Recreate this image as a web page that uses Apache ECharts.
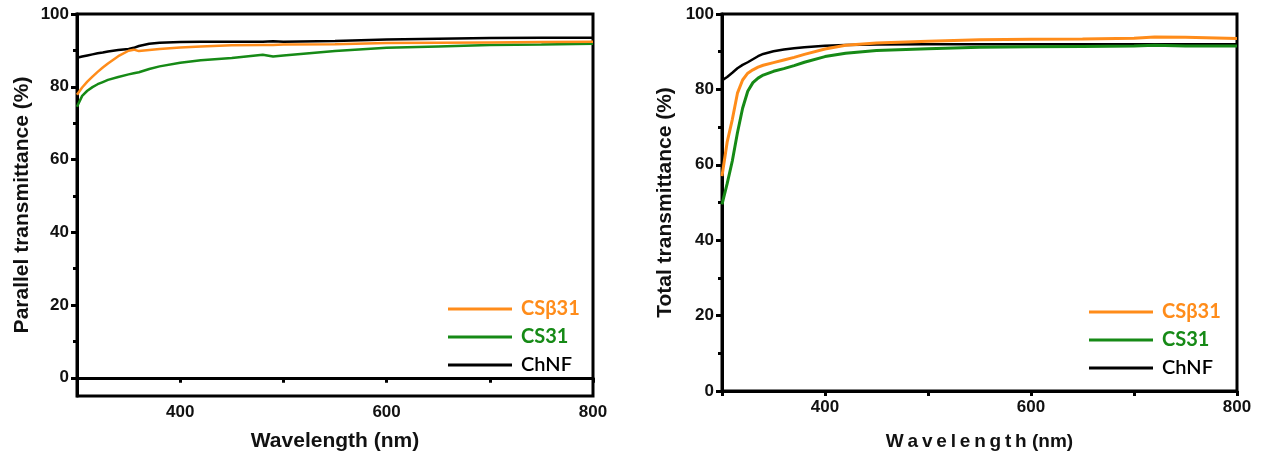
<!DOCTYPE html>
<html><head><meta charset="utf-8">
<script src="https://cdn.jsdelivr.net/npm/echarts@6/dist/echarts.min.js"></script>
<style>html,body{margin:0;padding:0;background:#fff}#c{width:1263px;height:459px}</style>
</head><body><div id="c"></div>
<script>
// Left chart: parallel transmittance
const parWavelength = [300,305,310,315,320,325,330,340,350,355,360,370,380,400,420,450,480,490,500,550,600,650,700,750,800];
const parChNF  = [88.0,88.3,88.6,88.9,89.2,89.4,89.7,90.1,90.4,90.7,91.2,91.8,92.1,92.3,92.4,92.4,92.4,92.5,92.4,92.6,93.0,93.2,93.4,93.5,93.5];
const parCSb31 = [77.8,79.8,81.4,82.8,84.1,85.3,86.4,88.4,89.9,90.2,89.8,90.1,90.4,90.8,91.1,91.4,91.5,91.5,91.6,91.7,92.0,92.1,92.2,92.3,92.4];
const parCS31  = [74.5,77.5,78.9,79.9,80.7,81.3,81.9,82.7,83.4,83.7,84.0,84.9,85.6,86.6,87.3,87.9,88.8,88.3,88.6,89.8,90.7,91.1,91.5,91.6,91.8];
// Right chart: total transmittance
const totWavelength = [300,305,310,315,320,325,330,335,340,350,360,370,380,400,420,450,500,550,600,650,700,720,750,800];
const totChNF  = [82.4,83.3,84.4,85.6,86.5,87.2,88.0,88.8,89.4,90.1,90.6,90.9,91.2,91.6,91.8,91.9,92.0,92.0,92.0,92.0,92.0,92.0,92.0,92.0];
const totCSb31 = [57.0,66.0,72.0,79.0,82.5,84.3,85.2,85.9,86.4,87.1,87.8,88.5,89.3,90.7,91.7,92.3,92.8,93.2,93.3,93.4,93.6,93.9,93.8,93.5];
const totCS31  = [49.5,55.0,61.0,68.5,75.0,79.5,81.8,83.0,83.8,84.8,85.5,86.3,87.2,88.7,89.6,90.3,90.8,91.2,91.3,91.4,91.5,91.7,91.5,91.5];
// Axis labels / legend
const seriesNames = ['CSβ31','CS31','ChNF'];
const xTicks = [400,600,800];
const leftYTicks = [0,20,40,60,80,100];
const leftYMinor = [10,30,50,70,90];

const colors = {'CSβ31':'#ff8c1a','CS31':'#168a16','ChNF':'#000000'};
const pairs = (xs, ys) => xs.map((x,i)=>[x,ys[i]]);

const lblFont = {fontFamily:'Liberation Sans', fontWeight:'bold', fontSize:17, color:'#111'};
const nameFont = {fontFamily:'Liberation Sans', fontWeight:'bold', fontSize:21, color:'#111'};

function xAxis(grid, gap, spaced){
  return {
    type:'value', gridIndex:grid, min:300, max:800, interval:100,
    name: spaced ? 'W\u2009a\u2009v\u2009e\u2009l\u2009e\u2009n\u2009g\u2009t\u2009h (nm)' : 'Wavelength (nm)',
    nameLocation:'middle', nameGap:gap,
    nameTextStyle: spaced ? {...nameFont, fontSize:19} : nameFont,
    axisLine:{show:true, lineStyle:{color:'#000', width:3}},
    axisTick:{show:true, inside:false, length:5, lineStyle:{color:'#000', width:3}},
    axisLabel:{...lblFont, margin:8, formatter: v => xTicks.includes(v) ? String(v) : ''},
    splitLine:{show:false}
  };
}

function legend(left, top){
  return {
    orient:'vertical', left:left, top:top, icon:'rect', itemWidth:64, itemHeight:3, itemGap:8,
    textStyle:{fontFamily:'Lato', fontWeight:'bold', fontSize:20, padding:[0,0,0,4]},
    data: seriesNames.map(n => ({name:n, textStyle:{color:colors[n], fontWeight: n==='ChNF'?'600':'bold'}}))
  };
}

function line(name, xi, yi, data, w){
  return {name, type:'line', xAxisIndex:xi, yAxisIndex:yi, data, symbol:'none', showSymbol:false,
    lineStyle:{color:colors[name], width:w}, itemStyle:{color:colors[name]}, animation:false, z:name==='CSβ31'?4:(name==='CS31'?3:2)};
}

const chart = echarts.init(document.getElementById('c'), null, {renderer:'canvas'});
chart.setOption({
  animation:false,
  backgroundColor:'#fff',
  grid:[
    {left:77, top:14, width:516, height:382, show:true, borderColor:'#000', borderWidth:3, backgroundColor:'transparent'},
    {left:722, top:14, width:515, height:377, show:true, borderColor:'#000', borderWidth:3, backgroundColor:'transparent'}
  ],
  xAxis:[ xAxis(0, 35, false), xAxis(1, 41, true) ],
  yAxis:[
    {type:'value', gridIndex:0, min:-5, max:100,
     name:'Parallel transmittance (%)', nameLocation:'middle', nameGap:44, nameTextStyle:nameFont,
     axisLine:{show:true, lineStyle:{color:'#000', width:3}},
     axisTick:{show:true, length:6, customValues:leftYTicks, lineStyle:{color:'#000', width:3}},
     axisLabel:{...lblFont, margin:8, customValues:leftYTicks},
     splitLine:{show:false}},
    {type:'value', gridIndex:0, min:-5, max:100, position:'left',
     axisLine:{show:false},
     axisTick:{show:true, length:4, customValues:leftYMinor, lineStyle:{color:'#000', width:3}},
     axisLabel:{show:false, customValues:leftYMinor},
     splitLine:{show:false}},
    {type:'value', gridIndex:1, min:0, max:100, interval:20,
     name:'Total transmittance (%)', nameLocation:'middle', nameGap:46, nameTextStyle:nameFont,
     axisLine:{show:true, lineStyle:{color:'#000', width:3}},
     axisTick:{show:true, length:6, lineStyle:{color:'#000', width:3}},
     minorTick:{show:true, splitNumber:2, length:4, lineStyle:{color:'#000', width:3}},
     axisLabel:{...lblFont, margin:8},
     splitLine:{show:false}}
  ],
  legend:[ legend(443, 294), legend(1084, 297) ],
  series:[
    line('ChNF', 0, 0, pairs(parWavelength, parChNF), 2.5),
    line('CS31', 0, 0, pairs(parWavelength, parCS31), 2.5),
    line('CSβ31', 0, 0, pairs(parWavelength, parCSb31), 2.5),
    line('ChNF', 1, 2, pairs(totWavelength, totChNF), 2.5),
    line('CS31', 1, 2, pairs(totWavelength, totCS31), 3),
    line('CSβ31', 1, 2, pairs(totWavelength, totCSb31), 3)
  ]
});
</script></body></html>
